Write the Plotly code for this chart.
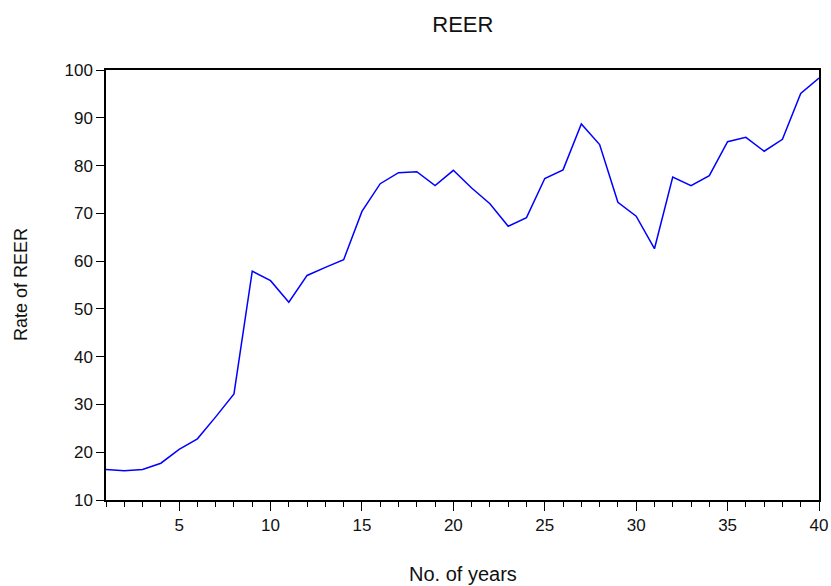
import plotly.graph_objects as go

# Year index and REER values
years = list(range(1, 41))
reer = [16.4, 16.1, 16.4, 17.7, 20.6, 22.8, 27.4, 32.2, 57.9, 55.9,
        51.4, 57.0, 58.7, 60.3, 70.4, 76.2, 78.5, 78.7, 75.8, 79.0,
        75.3, 72.0, 67.3, 69.1, 77.3, 79.1, 88.7, 84.4, 72.3, 69.4,
        62.6, 77.6, 75.8, 77.9, 85.0, 85.9, 83.0, 85.5, 95.1, 98.3]

font_family = "Liberation Sans, Arial, sans-serif"
text_color = "#111111"

fig = go.Figure(
    go.Scatter(
        x=years,
        y=reer,
        mode="lines",
        line=dict(color="#0000FF", width=1.5),
        showlegend=False,
    )
)

fig.update_layout(
    width=831,
    height=586,
    margin=dict(l=106, r=12, t=70, b=86, autoexpand=False),
    paper_bgcolor="white",
    plot_bgcolor="white",
    font=dict(family=font_family, color=text_color, size=17),
    title=dict(
        text="REER",
        x=0.557,
        xanchor="center",
        y=1 - 24 / 586,
        yanchor="middle",
        yref="container",
        font=dict(size=22, family=font_family, color=text_color),
    ),
    annotations=[
        dict(
            text="No. of years",
            x=0.5, xref="paper", xanchor="center",
            y=0, yref="paper", yanchor="middle", yshift=-74,
            showarrow=False,
            font=dict(size=20, family=font_family, color=text_color),
        ),
        dict(
            text="Rate of REER",
            x=0, xref="paper", xanchor="center", xshift=-85,
            y=0.5, yref="paper", yanchor="middle",
            textangle=-90,
            showarrow=False,
            font=dict(size=18, family=font_family, color=text_color),
        ),
    ],
)

fig.update_xaxes(
    range=[1, 40],
    tick0=0,
    dtick=5,
    ticks="outside",
    ticklen=9,
    tickwidth=1.3,
    tickcolor="black",
    minor=dict(dtick=1, tick0=0, ticks="outside", ticklen=5,
               tickwidth=1.3, tickcolor="black", showgrid=False),
    showline=True,
    linecolor="black",
    linewidth=1.5,
    mirror=True,
    showgrid=False,
    zeroline=False,
    automargin=False,
    tickfont=dict(size=17),
)

fig.update_yaxes(
    range=[10, 100],
    tick0=0,
    dtick=10,
    ticks="outside",
    ticklen=8,
    tickwidth=1.3,
    tickcolor="black",
    showline=True,
    linecolor="black",
    linewidth=1.5,
    mirror=True,
    showgrid=False,
    zeroline=False,
    automargin=False,
    tickfont=dict(size=17),
)

fig.write_html("out.html")
